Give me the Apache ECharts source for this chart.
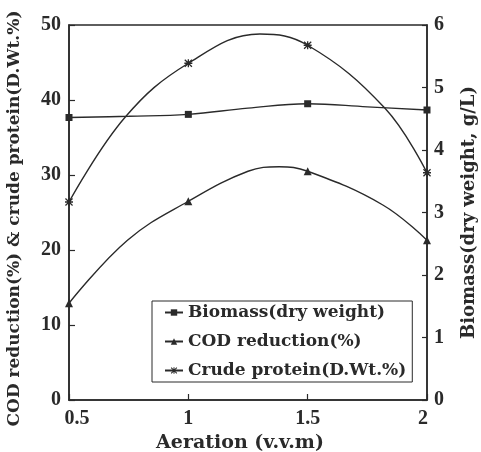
<!DOCTYPE html>
<html>
<head>
<meta charset="utf-8">
<script src="https://cdn.jsdelivr.net/npm/echarts@6/dist/echarts.min.js"></script>
<style>
html,body{margin:0;padding:0;background:#fff;}
#c{width:481px;height:452px;}
</style>
</head>
<body>
<div id="c"></div>
<script>
const biomassX = [0.5, 0.75, 1, 1.25, 1.5, 1.75, 2];
const codX = [0.5, 0.745, 1, 1.25, 1.38, 1.5, 1.815, 2];
const proteinX = [0.5, 0.735, 1, 1.3, 1.5, 1.824, 2];
// Aeration values that carry a marker
const markedAeration = [0.5, 1, 1.5, 2];
// Biomass (dry weight, g/L) - right axis
const biomass = [4.52, 4.54, 4.57, 4.67, 4.74, 4.69, 4.64];
// COD reduction (%) - left axis
const codReduction = [12.9, 21.3, 26.5, 30.5, 31.1, 30.5, 26.0, 21.3];
// Crude protein (D.Wt.%) - left axis
const crudeProtein = [26.4, 37.7, 44.9, 48.8, 47.3, 38.9, 30.3];
// tick labels
const xTicks = [0.5, 1, 1.5, 2];
const leftTicks = [0, 10, 20, 30, 40, 50];
const rightTicks = [0, 1, 2, 3, 4, 5, 6];

const FONT = "'Liberation Serif', serif";
const WIDE = "'DejaVu Serif', 'Liberation Serif', serif";
const INK = '#2a2a2a';
const asterisk = 'path://M4.2,0L5.8,0L5.8,10L4.2,10Z M0,4.2L10,4.2L10,5.8L0,5.8Z M1.1,0L5,3.9L8.9,0L10,1.1L6.1,5L10,8.9L8.9,10L5,6.1L1.1,10L0,8.9L3.9,5L0,1.1Z';

function build(xs, values) {
  return xs.map((x, i) => {
    const item = { value: [x, values[i]] };
    if (!markedAeration.includes(x)) item.symbol = 'none';
    return item;
  });
}

const tickFont = { fontSize: 20, fontWeight: 'bold', fontFamily: FONT, color: INK };

const chart = echarts.init(document.getElementById('c'), null, { renderer: 'canvas' });
chart.setOption({
  backgroundColor: '#fff',
  animation: false,
  textStyle: { fontFamily: FONT, fontWeight: 'bold', color: INK },
  grid: {
    left: 69, right: 54, top: 25, bottom: 52,
    containLabel: false, outerBoundsMode: 'none',
    show: true, borderColor: INK, borderWidth: 1.5, backgroundColor: 'transparent'
  },
  legend: {
    orient: 'vertical',
    left: 152, top: 301,
    padding: [3, 6, 3, 12],
    itemWidth: 18, itemHeight: 8, itemGap: 12,
    borderColor: INK, borderWidth: 1,
    backgroundColor: '#fff',
    textStyle: { fontFamily: WIDE, fontWeight: 'bold', fontSize: 17, color: INK },
    data: ['Biomass(dry weight)', 'COD reduction(%)', 'Crude protein(D.Wt.%)']
  },
  xAxis: {
    type: 'value', min: 0.5, max: 2, interval: 0.5,
    name: 'Aeration (v.v.m)', nameLocation: 'middle', nameGap: 30,
    nameTextStyle: { fontFamily: WIDE, fontWeight: 'bold', fontSize: 19, color: INK, padding: [0, 16, 0, 0] },
    axisLine: { lineStyle: { color: INK, width: 1.5 } },
    axisTick: { inside: true, length: 6, lineStyle: { color: INK, width: 1.2 } },
    splitLine: { show: false },
    axisLabel: Object.assign({
      margin: 9,
      formatter: v => {
        const t = xTicks.find(k => Math.abs(k - v) < 1e-9);
        if (t === undefined) return '';
        if (t === xTicks[0]) return '{a|' + t + '}';
        if (t === xTicks[xTicks.length - 1]) return '{b|' + t + '}';
        return String(t);
      },
      rich: {
        a: Object.assign({ padding: [0, 0, 0, 16] }, tickFont),
        b: Object.assign({ padding: [0, 8, 0, 0] }, tickFont)
      }
    }, tickFont)
  },
  yAxis: [
    {
      type: 'value', min: leftTicks[0], max: leftTicks[leftTicks.length - 1], interval: 10,
      position: 'left',
      name: 'COD reduction(%) & crude protein(D.Wt.%)', nameLocation: 'middle', nameGap: 46, nameRotate: 90,
      nameTextStyle: { fontFamily: WIDE, fontWeight: 'bold', fontSize: 17, color: INK, padding: [0, 12, 0, 0] },
      axisLine: { show: true, lineStyle: { color: INK, width: 1.6 } },
      axisTick: { show: true, inside: true, length: 6, lineStyle: { color: INK, width: 1.2 } },
      splitLine: { show: false },
      axisLabel: Object.assign({ margin: 8 }, tickFont)
    },
    {
      type: 'value', min: rightTicks[0], max: rightTicks[rightTicks.length - 1], interval: 1,
      position: 'right',
      name: 'Biomass(dry weight, g/L)', nameLocation: 'middle', nameGap: 33, nameRotate: 90,
      nameTextStyle: { fontFamily: WIDE, fontWeight: 'bold', fontSize: 18, color: INK },
      axisLine: { show: true, lineStyle: { color: INK, width: 1.5 } },
      axisTick: { show: true, inside: true, length: 5, lineStyle: { color: INK, width: 1.2 } },
      splitLine: { show: false },
      axisLabel: Object.assign({ margin: 7 }, tickFont)
    }
  ],
  series: [
    {
      name: 'Biomass(dry weight)', type: 'line', yAxisIndex: 1, smooth: 0.4,
      data: build(biomassX, biomass), showAllSymbol: true,
      symbol: 'rect', symbolSize: 7,
      lineStyle: { color: INK, width: 1.4 }, itemStyle: { color: INK }
    },
    {
      name: 'COD reduction(%)', type: 'line', yAxisIndex: 0, smooth: 0.4,
      data: build(codX, codReduction), showAllSymbol: true,
      symbol: 'triangle', symbolSize: 8,
      lineStyle: { color: INK, width: 1.4 }, itemStyle: { color: INK }
    },
    {
      name: 'Crude protein(D.Wt.%)', type: 'line', yAxisIndex: 0, smooth: 0.4,
      data: build(proteinX, crudeProtein), showAllSymbol: true,
      symbol: asterisk, symbolSize: 8,
      lineStyle: { color: INK, width: 1.4 }, itemStyle: { color: INK }
    }
  ]
});
</script>
</body>
</html>
